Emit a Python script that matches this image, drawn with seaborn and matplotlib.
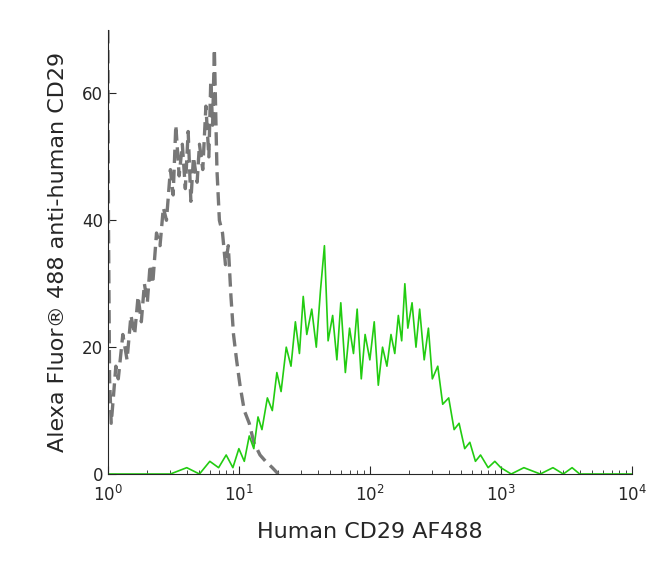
import matplotlib
matplotlib.use("Agg")
import matplotlib.pyplot as plt
import seaborn as sns
import pandas as pd

sns.set_style("ticks")
plt.rcParams['font.family'] = ['DejaVu Sans']

gray_x = [1.0, 1.01, 1.03, 1.06, 1.1, 1.15, 1.2, 1.3, 1.4, 1.5, 1.6, 1.7, 1.8, 1.9, 2.0, 2.1, 2.2, 2.35, 2.5, 2.65, 2.8, 3.0, 3.15, 3.3, 3.5, 3.7, 3.9, 4.1, 4.3, 4.5, 4.8, 5.0, 5.3, 5.6, 5.9, 6.1, 6.3, 6.5, 6.8, 7.1, 7.5, 7.9, 8.3, 8.7, 9.1, 9.6, 10.2, 11, 12, 13, 14.5, 16, 18, 20]
gray_y = [70, 40, 15, 8, 12, 17, 15, 22, 18, 25, 22, 28, 24, 30, 27, 33, 30, 38, 36, 42, 40, 48, 44, 55, 47, 52, 45, 54, 43, 50, 46, 52, 48, 58, 50, 62, 55, 67, 48, 40, 38, 33, 36, 28, 22, 18, 14, 10, 8, 5, 3, 2, 1, 0]

green_x = [1.0, 2.0, 3.0, 4.0, 5.0, 6.0, 7.0, 8.0, 9.0, 10, 11, 12, 13, 14, 15, 16.5, 18, 19.5, 21, 23, 25, 27, 29, 31, 33, 36, 39, 42, 45, 48, 52, 56, 60, 65, 70, 75, 80, 86, 92, 100, 108, 116, 125, 135, 145, 155, 165, 175, 185, 195, 210, 225, 240, 260, 280, 300, 330, 360, 400, 440, 480, 530, 580, 640, 700, 800, 900, 1000, 1200, 1500, 2000, 2500, 3000, 3500, 4000, 5000, 10000]
green_y = [0, 0, 0, 1, 0, 2, 1, 3, 1, 4, 2, 6, 4, 9, 7, 12, 10, 16, 13, 20, 17, 24, 19, 28, 22, 26, 20, 29, 36, 21, 25, 18, 27, 16, 23, 19, 26, 15, 22, 18, 24, 14, 20, 17, 22, 19, 25, 21, 30, 23, 27, 20, 26, 18, 23, 15, 17, 11, 12, 7, 8, 4, 5, 2, 3, 1, 2, 1, 0, 1, 0, 1, 0, 1, 0, 0, 0]

fig = plt.figure(figsize=(6.5, 5.67), dpi=100)
ax = fig.add_axes([0.166, 0.164, 0.806, 0.783])
sns.lineplot(data=pd.DataFrame({"x": gray_x, "y": gray_y}), x="x", y="y", ax=ax,
             color="#777777", lw=2.4, linestyle=(0, (4, 2)))
sns.lineplot(data=pd.DataFrame({"x": green_x, "y": green_y}), x="x", y="y", ax=ax,
             color="#22cc11", lw=1.2)
ax.set_xscale("log")
ax.set_xlim(1, 10000)
ax.set_ylim(0, 70)
ax.set_yticks([0, 20, 40, 60])
ax.set_xticks([1, 10, 100, 1000, 10000])
ax.set_xticklabels([r"$10^0$", r"$10^1$", r"$10^2$", r"$10^3$", r"$10^4$"])
ax.minorticks_on()
ax.tick_params(axis="both", labelsize=12, direction="in", length=6)
ax.tick_params(axis="x", pad=8)
ax.tick_params(axis="both", which="minor", direction="in", length=3)
ax.yaxis.set_minor_locator(matplotlib.ticker.NullLocator())
sns.despine(ax=ax)
ax.set_xlabel("Human CD29 AF488", fontsize=16, labelpad=12)
ax.set_ylabel("Alexa Fluor\u00ae 488 anti-human CD29", fontsize=16, labelpad=10)
fig.savefig("out.png", dpi=100)
